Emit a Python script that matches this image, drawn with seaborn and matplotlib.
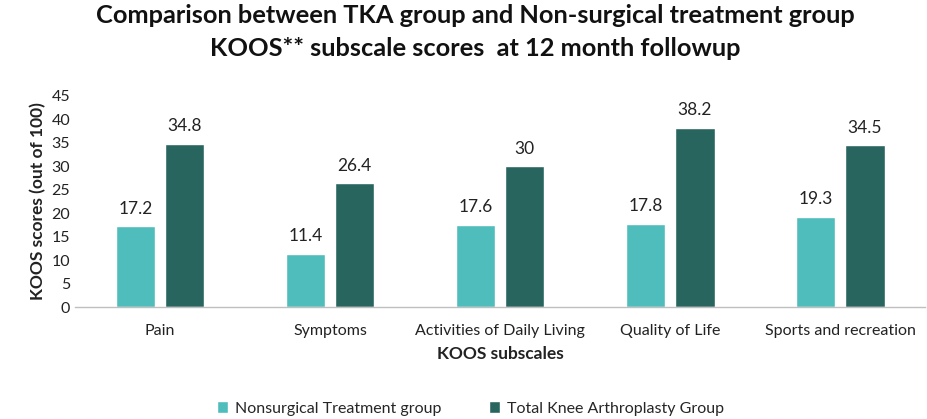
import matplotlib
matplotlib.use("Agg")
import matplotlib.pyplot as plt
import seaborn as sns
import pandas as pd

categories = ["Pain", "Symptoms", "Activities of Daily Living", "Quality of Life", "Sports and recreation"]
nonsurgical = [17.2, 11.4, 17.6, 17.8, 19.3]
tka = [34.8, 26.4, 30, 38.2, 34.5]
nonsurgical_labels = ["17.2", "11.4", "17.6", "17.8", "19.3"]
tka_labels = ["34.8", "26.4", "30", "38.2", "34.5"]
series_names = ["Nonsurgical Treatment group", "Total Knee Arthroplasty Group"]
yticks = [0, 5, 10, 15, 20, 25, 30, 35, 40, 45]

df = pd.DataFrame({
    "cat": categories * 2,
    "val": nonsurgical + tka,
    "grp": [series_names[0]] * 5 + [series_names[1]] * 5,
})

sns.set_theme(style="white")
plt.rcParams["font.family"] = ["Lato", "DejaVu Sans"]

fig = plt.figure(figsize=(9.27, 4.19), dpi=100)
ax = fig.add_axes([0.081, 0.267, 0.917, 0.504])

palette = {series_names[0]: "#4fbdbb", series_names[1]: "#29655f"}
sns.barplot(data=df, x="cat", y="val", hue="grp", palette=palette, ax=ax,
            width=0.58, gap=0.2, saturation=1, legend=True)

labels = [nonsurgical_labels, tka_labels]
for cont, labs in zip(ax.containers, labels):
    ax.bar_label(cont, labels=labs, padding=7, fontsize=12.5, color="#222222")

ax.set_ylim(0, 45)
ax.set_yticks(yticks)
ax.set_xlim(-0.5, 4.5)
ax.tick_params(axis="both", length=0, labelsize=11.5, colors="#222222")
ax.tick_params(axis="x", pad=12)
for s in ["top", "right", "left"]:
    ax.spines[s].set_visible(False)
ax.spines["bottom"].set_color("#bfbfbf")
ax.spines["bottom"].set_linewidth(1)
ax.set_ylabel("KOOS scores (out of 100)", fontsize=12.5, fontweight="bold", color="#222222")
ax.set_xlabel("KOOS subscales", fontsize=12.5, fontweight="bold", color="#222222", labelpad=6)

leg = ax.legend(loc="center", bbox_to_anchor=(0.465, -0.48), ncol=2, frameon=False,
                fontsize=11.5, handlelength=0.7, handleheight=0.7, columnspacing=3, handletextpad=0.4)

fig.suptitle("Comparison between TKA group and Non-surgical treatment group\nKOOS** subscale scores  at 12 month followup",
             fontsize=18.3, fontweight="bold", x=0.513, y=0.99, linespacing=1.5, color="#111111")

fig.savefig("out.png", dpi=100)
